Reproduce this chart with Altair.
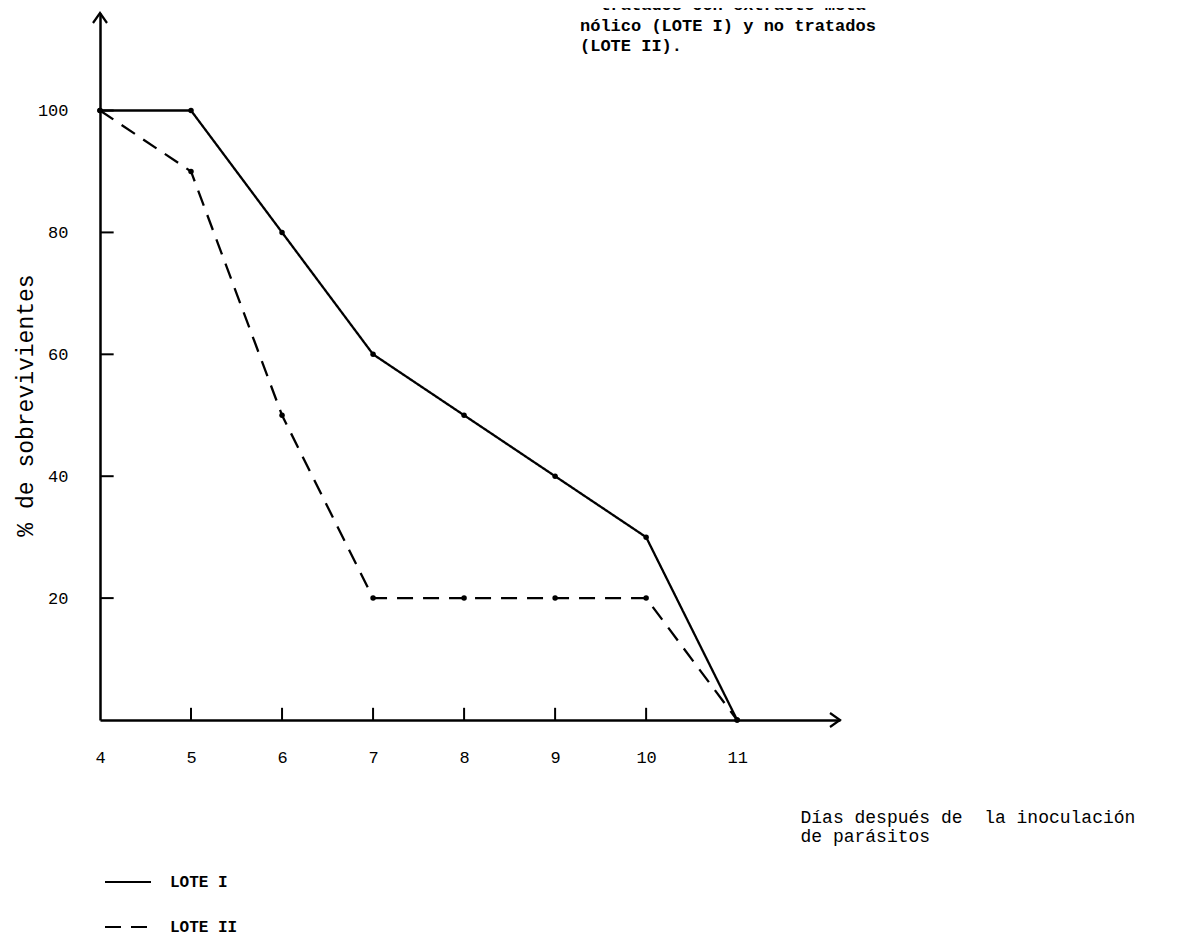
import altair as alt
import pandas as pd

# ---- data ----
days = [4, 5, 6, 7, 8, 9, 10, 11]
lote_i = [100, 100, 80, 60, 50, 40, 30, 0]
lote_ii = [100, 90, 50, 20, 20, 20, 20, 0]
series_names = ["LOTE I", "LOTE II"]

x_tick_labels = [4, 5, 6, 7, 8, 9, 10, 11]
x_inner_ticks = [5, 6, 7, 8, 9, 10]
y_tick_labels = [20, 40, 60, 80, 100]

title_text = "- tratados con extracto meta-\nnólico (LOTE I) y no tratados\n(LOTE II)."
x_title = ["Días después de \u00a0la inoculación", "de parásitos"]
y_title = "% de sobrevivientes"

X_MIN, X_MAX = 4, 12.13
Y_MIN, Y_MAX = 0, 116

FONT = "Liberation Mono"

rows = []
for name, vals in zip(series_names, [lote_i, lote_ii]):
    for d, v in zip(days, vals):
        rows.append({"dia": d, "pct": v, "lote": name})
df = pd.DataFrame(rows)

xscale = alt.Scale(domain=[X_MIN, X_MAX], nice=False, zero=False)
yscale = alt.Scale(domain=[Y_MIN, Y_MAX], nice=False, zero=False)

x_axis = alt.Axis(
    values=x_tick_labels, ticks=False, tickSize=0, grid=False, format="d",
    domainColor="black", domainWidth=2.5,
    labelFont=FONT, labelFontSize=17, labelColor="black", labelPadding=29,
    labelFlush=False,
    title=x_title, titleX=700, titleY=88, titleAlign="left", titleBaseline="top",
    titleFont=FONT, titleFontSize=18, titleFontWeight="normal", titleColor="black",
    titleLineHeight=19,
)
y_axis = alt.Axis(
    values=y_tick_labels, ticks=False, tickSize=0, grid=False, format="d",
    domainColor="black", domainWidth=2.5,
    labelFont=FONT, labelFontSize=17, labelColor="black", labelPadding=32,
    title=y_title, titleX=-75, titleY=392, titleAngle=270, titleAlign="center",
    titleBaseline="middle", titleFont=FONT, titleFontSize=23,
    titleFontWeight="normal", titleColor="black",
)

lines = alt.Chart(df).mark_line(color="black", strokeWidth=2.3, clip=False).encode(
    x=alt.X("dia:Q", scale=xscale, axis=x_axis),
    y=alt.Y("pct:Q", scale=yscale, axis=y_axis),
    strokeDash=alt.StrokeDash(
        "lote:N",
        scale=alt.Scale(domain=series_names, range=[[1, 0], [16, 10]]),
        legend=alt.Legend(
            orient="none", legendX=4, legendY=845, title=None,
            symbolType="stroke", symbolSize=2116, symbolStrokeWidth=2,
            symbolStrokeColor="black", labelFont=FONT, labelFontSize=16,
            labelFontWeight="bold", labelColor="black", rowPadding=13,
            labelOffset=18,
        ),
    ),
    detail="lote:N",
)

points = alt.Chart(df).mark_point(filled=True, color="black", size=30, opacity=1).encode(
    x=alt.X("dia:Q", scale=xscale),
    y=alt.Y("pct:Q", scale=yscale),
)

xt = pd.DataFrame({"dia": x_inner_ticks})
x_ticks = alt.Chart(xt).mark_rule(color="black", strokeWidth=2).encode(
    x=alt.X("dia:Q", scale=xscale),
    y=alt.datum(0),
    y2=alt.datum(2.0),
)

yt = pd.DataFrame({"pct": y_tick_labels})
y_ticks = alt.Chart(yt).mark_rule(color="black", strokeWidth=2).encode(
    y=alt.Y("pct:Q", scale=yscale),
    x=alt.datum(X_MIN),
    x2=alt.datum(X_MIN + 0.15),
)

arrow_r = alt.Chart(pd.DataFrame({"dia": [X_MAX], "pct": [Y_MIN]})).mark_point(
    shape="M -1 -0.7 L 0 0 L -1 0.7", filled=False, color="black",
    strokeWidth=2.2, size=400, opacity=1, clip=False,
).encode(x=alt.X("dia:Q", scale=xscale), y=alt.Y("pct:Q", scale=yscale))

arrow_u = alt.Chart(pd.DataFrame({"dia": [X_MIN], "pct": [Y_MAX]})).mark_point(
    shape="M -0.7 1 L 0 0 L 0.7 1", filled=False, color="black",
    strokeWidth=2.2, size=400, opacity=1, clip=False,
).encode(x=alt.X("dia:Q", scale=xscale), y=alt.Y("pct:Q", scale=yscale))

title = alt.Chart(pd.DataFrame({"t": [title_text]})).mark_text(
    align="left", baseline="top", lineBreak="\n", lineHeight=20.5,
    font=FONT, fontSize=17, fontWeight="bold", color="black",
).encode(x=alt.value(480), y=alt.value(-16), text="t:N")

chart = alt.layer(lines, points, x_ticks, y_ticks, arrow_r, arrow_u, title).properties(
    width=740, height=707,
    autosize=alt.AutoSizeParams(type="none"),
    padding={"left": 92, "top": 5, "right": 335, "bottom": 220},
    background="white",
).configure_view(stroke=None)

chart.save("out.html", embed_options={"renderer": "svg", "actions": False})
